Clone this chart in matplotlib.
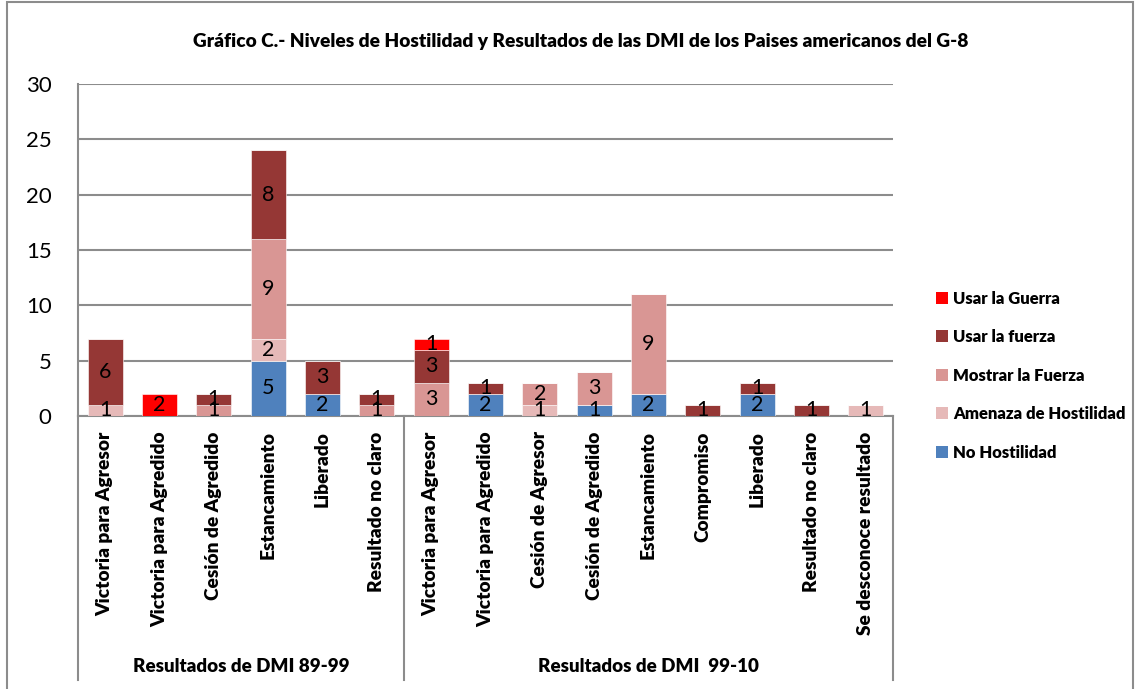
import matplotlib
matplotlib.use("Agg")
import matplotlib.pyplot as plt
from matplotlib.patches import Rectangle, Patch
from matplotlib.transforms import blended_transform_factory
from matplotlib import font_manager as fm
import numpy as np

plt.rcParams['font.family'] = ['Lato', 'DejaVu Sans']

# pick a heavy face of Lato to mimic Calibri Bold rendering
def _heavy_lato():
    best, bestd = None, 1e9
    for f in fm.fontManager.ttflist:
        if f.name != 'Lato' or f.style != 'normal':
            continue
        w = f.weight if isinstance(f.weight, int) else fm.weight_dict.get(f.weight, 400)
        d = abs(w - 800)
        if d < bestd:
            best, bestd = f.fname, d
    return best

_HEAVY = _heavy_lato()

def bold_props(size):
    if _HEAVY is not None:
        return fm.FontProperties(fname=_HEAVY, size=size)
    return fm.FontProperties(family='Open Sans', weight='bold', size=size)

title = "Gráfico C.- Niveles de Hostilidad y Resultados de las DMI de los Paises americanos del G-8"
categories = [
    "Victoria para Agresor", "Victoria para Agredido", "Cesión de Agredido",
    "Estancamiento", "Liberado", "Resultado no claro",
    "Victoria para Agresor", "Victoria para Agredido", "Cesión de Agresor",
    "Cesión de Agredido", "Estancamiento", "Compromiso", "Liberado",
    "Resultado no claro", "Se desconoce resultado",
]
groups = ["Resultados de DMI 89-99", "Resultados de DMI  99-10"]
group_sizes = [6, 9]

series_names = ["No Hostilidad", "Amenaza de Hostilidad", "Mostrar la Fuerza",
                "Usar la fuerza", "Usar la Guerra"]
no_hostilidad = [0, 0, 0, 5, 2, 0, 0, 2, 0, 1, 2, 0, 2, 0, 0]
amenaza       = [1, 0, 0, 2, 0, 0, 0, 0, 1, 0, 0, 0, 0, 0, 1]
mostrar       = [0, 0, 1, 9, 0, 1, 3, 0, 2, 3, 9, 0, 0, 0, 0]
usar_fuerza   = [6, 0, 1, 8, 3, 1, 3, 1, 0, 0, 0, 1, 1, 1, 0]
usar_guerra   = [0, 2, 0, 0, 0, 0, 1, 0, 0, 0, 0, 0, 0, 0, 0]
series = [no_hostilidad, amenaza, mostrar, usar_fuerza, usar_guerra]
colors = ["#4F81BD", "#E6B9B8", "#D99694", "#953735", "#FF0000"]
yticks = [0, 5, 10, 15, 20, 25, 30]

W, H = 1140, 689
fig = plt.figure(figsize=(W / 100, H / 100), dpi=100)
ax = fig.add_axes([78 / W, 1 - 416 / H, (893 - 78) / W, (416 - 84) / H])

x = np.arange(len(categories))
bottom = np.zeros(len(categories))
handles = []
for name, vals, col in zip(series_names, series, colors):
    vals = np.array(vals, dtype=float)
    bars = ax.bar(x, vals, 0.64, bottom=bottom, color=col, label=name,
                  edgecolor='white', linewidth=0.4, zorder=3)
    labels = [str(int(v)) if v > 0 else "" for v in vals]
    ax.bar_label(bars, labels=labels, label_type='center', fontsize=15.5,
                 color='black', zorder=4)
    bottom += vals
    handles.append(Patch(facecolor=col, label=name))

ax.set_xlim(-0.5, len(categories) - 0.5)
ax.set_ylim(0, 30)
ax.set_yticks(yticks)
ax.set_yticklabels([str(t) for t in yticks], fontsize=16)
ax.yaxis.grid(True, color='#8C8C8C', linewidth=1.5, zorder=0)
ax.set_axisbelow(True)
ax.tick_params(axis='y', length=0, pad=19)
ax.set_xticks(x)
ax.set_xticklabels(categories, rotation=90, va='top', ha='center',
                   fontproperties=bold_props(13.8))
ax.tick_params(axis='x', length=0, pad=11)
for s in ['top', 'right']:
    ax.spines[s].set_visible(False)
for s in ['left', 'bottom']:
    ax.spines[s].set_color('#8C8C8C')
    ax.spines[s].set_linewidth(1.5)

# group separators and labels
tr = blended_transform_factory(ax.transData, ax.transAxes)
edges = np.concatenate([[0], np.cumsum(group_sizes)]) - 0.5
for e in edges:
    ax.plot([e, e], [0, -0.795], transform=tr, color='#8C8C8C', lw=1.5,
            clip_on=False)
for g, (a, b) in zip(groups, zip(edges[:-1], edges[1:])):
    ax.text((a + b) / 2, -0.756, g, transform=tr, ha='center', va='center',
            fontproperties=bold_props(13.5))

ax.legend(handles=handles[::-1], loc='upper left',
          bbox_to_anchor=(929 / W, 1 - 284 / H), bbox_transform=fig.transFigure,
          frameon=False, prop=bold_props(12),
          handlelength=0.75, handleheight=0.75, handletextpad=0.3,
          labelspacing=1.35, borderaxespad=0)

fig.text(581 / W, 1 - 42 / H, title, ha='center', va='center',
         fontproperties=bold_props(13.8))

fig.patches.append(Rectangle((7 / W, -0.05), (1133 - 7) / W, 1.05 - 2 / H,
                             transform=fig.transFigure, fill=False,
                             edgecolor='#8C8C8C', linewidth=1.5))

fig.savefig("out.png", dpi=100)
